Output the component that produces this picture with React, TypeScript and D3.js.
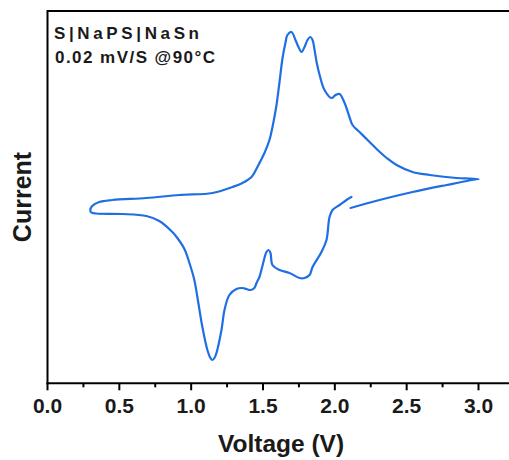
import React from "react";
import * as d3 from "d3";

// Cyclic voltammogram (arbitrary current units)
const voltage = [
  2.109, 2.311, 2.541, 2.778, 2.995, 3.0,
  2.939, 2.848, 2.66, 2.541, 2.43, 2.361, 2.298, 2.242, 2.172, 2.123, 2.102, 2.068,
  2.033, 2.005, 1.977, 1.928, 1.894, 1.873, 1.859, 1.845, 1.83, 1.81, 1.789, 1.768,
  1.747, 1.726, 1.698, 1.67, 1.656, 1.636, 1.615, 1.594, 1.573, 1.566, 1.545, 1.51,
  1.461, 1.42, 1.357, 1.287, 1.148, 0.918, 0.688, 0.451, 0.36, 0.311, 0.298, 0.305,
  0.339, 0.52, 0.688, 0.778, 0.869, 0.904, 0.953, 0.988, 1.022, 1.05, 1.078,
  1.113, 1.134, 1.148, 1.162, 1.176, 1.211, 1.232, 1.266, 1.315, 1.357, 1.385, 1.413,
  1.44, 1.455, 1.475, 1.496, 1.524, 1.538, 1.552, 1.566, 1.615, 1.684, 1.754, 1.789,
  1.824, 1.845, 1.907, 1.942, 1.963, 1.984, 2.033, 2.102, 2.116,
];
const current = [
  -0.01, 0.07, 0.15, 0.22, 0.28, 0.28,
  0.285, 0.29, 0.32, 0.35, 0.42, 0.49, 0.57, 0.65, 0.75, 0.82, 0.9, 1.04,
  1.13, 1.12, 1.09, 1.17, 1.32, 1.45, 1.57, 1.67, 1.7, 1.67, 1.6, 1.55,
  1.6, 1.67, 1.75, 1.72, 1.64, 1.49, 1.25, 1.02, 0.85, 0.8, 0.67, 0.54,
  0.4, 0.3, 0.24, 0.2, 0.14, 0.12, 0.09, 0.07, 0.05, 0.01, -0.03, -0.055,
  -0.065, -0.07, -0.09, -0.14, -0.25, -0.31, -0.42, -0.56, -0.73, -0.96, -1.2,
  -1.43, -1.51, -1.53, -1.51, -1.46, -1.23, -1.03, -0.88, -0.82, -0.81, -0.82, -0.83,
  -0.81, -0.76, -0.7, -0.59, -0.45, -0.43, -0.46, -0.58, -0.63, -0.66, -0.71, -0.71,
  -0.68, -0.6, -0.45, -0.33, -0.1, -0.03, 0.02, 0.09, 0.1,
];
const majorTicks = [0, 0.5, 1.0, 1.5, 2.0, 2.5, 3.0];
const minorTicks = [0.25, 0.75, 1.25, 1.75, 2.25, 2.75];
const annotation = ["S|NaPS|NaSn", "0.02 mV/S @90°C"];
const xTitle = "Voltage (V)";
const yTitle = "Current";

const W = 509;
const H = 460;
const FONT = "'Liberation Sans', Arial, sans-serif";
const BLUE = "#1f6fe3";

export default function App() {
  const left = 47.5;
  const top = 11;
  const bottom = 383.3;
  const x = d3.scaleLinear().domain([0, 3]).range([left, 478.5]);
  const y = d3.scaleLinear().domain([-1.763, 1.96]).range([bottom, top]);
  const pts: [number, number][] = voltage.map((v, i) => [v, current[i]]);
  const line = d3
    .line<[number, number]>()
    .x((d) => x(d[0]))
    .y((d) => y(d[1]))
    .curve(d3.curveCatmullRom.alpha(0.5));

  return (
    <svg
      width={W}
      height={H}
      style={{ position: "absolute", left: 0, top: 0, background: "#fff" }}
      fontFamily={FONT}
    >
      <rect x={0} y={0} width={W} height={H} fill="#fff" />
      {/* frame */}
      <line x1={left} x2={W + 2} y1={top} y2={top} stroke="#000" strokeWidth={2} />
      <line x1={left} x2={left} y1={top - 1} y2={bottom + 1} stroke="#000" strokeWidth={2} />
      <line x1={left - 1} x2={W + 2} y1={bottom} y2={bottom} stroke="#000" strokeWidth={2} />
      {majorTicks.map((t) => (
        <line key={"M" + t} x1={x(t)} x2={x(t)} y1={bottom} y2={bottom + 7} stroke="#000" strokeWidth={2} />
      ))}
      {minorTicks.map((t) => (
        <line key={"m" + t} x1={x(t)} x2={x(t)} y1={bottom} y2={bottom + 4} stroke="#000" strokeWidth={2} />
      ))}
      {majorTicks.map((t) => (
        <text
          key={"L" + t}
          x={x(t)}
          y={413}
          textAnchor="middle"
          fontSize={21}
          fontWeight="bold"
          fill="#1a1a1a"
        >
          {d3.format(".1f")(t)}
        </text>
      ))}
      <text x={281} y={452} textAnchor="middle" fontSize={24.5} fontWeight="bold" fill="#1a1a1a">
        {xTitle}
      </text>
      <text
        transform="translate(30.5,197) rotate(-90)"
        textAnchor="middle"
        fontSize={25}
        fontWeight="bold"
        fill="#1a1a1a"
      >
        {yTitle}
      </text>
      <text x={54} y={39} fontSize={17} fontWeight="bold" fill="#1a1a1a" textLength={145} lengthAdjust="spacing">
        {annotation[0]}
      </text>
      <text x={55} y={63} fontSize={17} fontWeight="bold" fill="#1a1a1a" textLength={160} lengthAdjust="spacing">
        {annotation[1]}
      </text>
      <path d={line(pts) || ""} fill="none" stroke={BLUE} strokeWidth={2.2} strokeLinejoin="round" strokeLinecap="round" />
    </svg>
  );
}
